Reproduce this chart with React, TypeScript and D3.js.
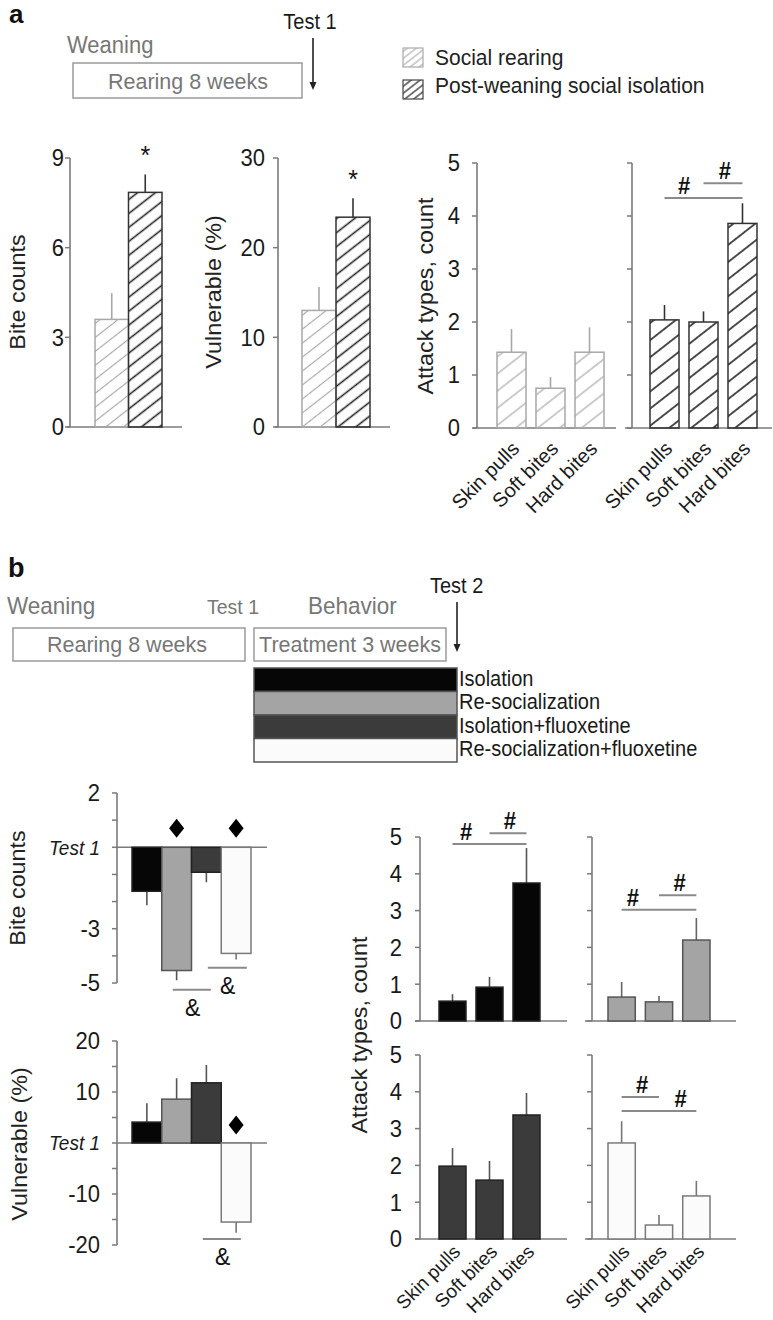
import React from "react";
import * as d3 from "d3";

const W = 773;
const H = 1320;
const FONT = "'Liberation Sans', Arial, Helvetica, sans-serif";
const SY = 1.06;
const AX = "#7a7a7a";
const GRAYTXT = "#777";

// ---------- Panel a data ----------
const rearingGroups = ["Social rearing", "Post-weaning social isolation"];
const biteCountsA = [3.6, 7.85];
const biteCountsErrA = [0.88, 0.6];
const vulnerableA = [13.0, 23.4];
const vulnerableErrA = [2.6, 2.1];
const attackTypes = ["Skin pulls", "Soft bites", "Hard bites"];
const attackSocialA = [1.43, 0.75, 1.43];
const attackSocialErrA = [0.44, 0.21, 0.47];
const attackIsolationA = [2.04, 2.0, 3.86];
const attackIsolationErrA = [0.28, 0.2, 0.38];
const biteTicksA = [0, 3, 6, 9];
const vulnTicksA = [0, 10, 20, 30];
const attackTicks = [0, 1, 2, 3, 4, 5];

// ---------- Panel b data ----------
const treatmentGroups = ["Isolation", "Re-socialization", "Isolation+fluoxetine", "Re-socialization+fluoxetine"];
const treatmentColors = ["#060606", "#a4a4a4", "#3b3b3b", "#fbfbfb"];
const treatmentStrokes = ["#222", "#555", "#222", "#7a7a7a"];
const biteChangeB = [-1.62, -4.54, -0.92, -3.91];
const biteChangeErrB = [0.52, 0.36, 0.37, 0.22];
const vulnChangeB = [4.1, 8.6, 11.8, -15.5];
const vulnChangeErrB = [3.7, 4.1, 3.5, 2.1];
const biteTicksB = [2, 1, 0, -1, -2, -3, -4, -5];
const biteTickLabelsB = ["2", "", "Test 1", "", "", "-3", "", "-5"];
const vulnTicksB = [20, 15, 10, 5, 0, -5, -10, -15, -20];
const vulnTickLabelsB = ["20", "", "10", "", "Test 1", "", "-10", "", "-20"];
const attackIsolationB = [0.54, 0.92, 3.75];
const attackIsolationErrB = [0.19, 0.28, 0.95];
const attackResocB = [0.65, 0.52, 2.2];
const attackResocErrB = [0.41, 0.16, 0.6];
const attackIsoFluoxB = [1.98, 1.6, 3.37];
const attackIsoFluoxErrB = [0.49, 0.52, 0.6];
const attackResocFluoxB = [2.61, 0.38, 1.17];
const attackResocFluoxErrB = [0.59, 0.27, 0.41];

type TxtProps = {
  x: number; y: number; size: number; anchor?: string; rot?: number; fill?: string;
  weight?: string | number; italic?: boolean; dy?: string; sy?: number; children?: React.ReactNode;
};
const Txt = ({ x, y, size, anchor = "start", rot = 0, fill = "#1a1a1a", weight = "normal", italic = false, dy, sy = SY, children }: TxtProps) => (
  <text
    transform={`translate(${x},${y}) scale(1,${sy})${rot ? ` rotate(${rot})` : ""}`}
    fontSize={size}
    textAnchor={anchor as any}
    fill={fill}
    fontWeight={weight as any}
    fontStyle={italic ? "italic" : "normal"}
    dy={dy}
  >
    {children}
  </text>
);

function YAxis({ x, y, ticks, labels, gap = 16, size = 22 }: any) {
  const r = y.range();
  return (
    <g>
      <line x1={x} x2={x} y1={Math.min(...r)} y2={Math.max(...r)} stroke={AX} strokeWidth={1.6} />
      {ticks.map((t: number, i: number) => (
        <line key={i} x1={x - 5} x2={x} y1={y(t)} y2={y(t)} stroke={AX} strokeWidth={1.5} />
      ))}
      {labels &&
        ticks.map((t: number, i: number) =>
          labels[i] ? (
            <Txt key={"l" + i} x={x - gap} y={y(t)} size={labels[i] === "Test 1" ? 19 : size} anchor="end" dy="0.36em" italic={labels[i] === "Test 1"}>
              {labels[i]}
            </Txt>
          ) : null
        )}
    </g>
  );
}

function Bars({ band, y, values, errs, fills, strokes, errStrokes }: any) {
  const dom = band.domain();
  const w = band.bandwidth();
  return (
    <g>
      {values.map((v: number, i: number) => {
        const x = band(dom[i]);
        const cx = x + w / 2;
        const y0 = y(0);
        const y1 = y(v);
        const ye = y(v + (v >= 0 ? errs[i] : -errs[i]));
        return (
          <g key={i}>
            <line x1={cx} x2={cx} y1={y1} y2={ye} stroke={(errStrokes || strokes)[i]} strokeWidth={1.6} />
            <rect x={x} y={Math.min(y0, y1)} width={w} height={Math.abs(y1 - y0)} fill={fills[i]} stroke={strokes[i]} strokeWidth={1.5} />
          </g>
        );
      })}
    </g>
  );
}

function center(band: any, i: number) {
  const dom = band.domain();
  return band(dom[0]) + band.bandwidth() / 2 + i * band.step();
}

function SigLine({ band, y, from, to, level, hashAt }: any) {
  const yy = y(level);
  return (
    <g>
      <line x1={center(band, from)} x2={center(band, to)} y1={yy} y2={yy} stroke="#8a8a8a" strokeWidth={2} />
      <Txt x={center(band, hashAt)} y={yy - 12.5} size={22} anchor="middle" weight="bold" dy="0.36em" fill="#111">#</Txt>
    </g>
  );
}

function AmpLine({ band, y, from, to, level, ampAt }: any) {
  const yy = y(level);
  return (
    <g>
      <line x1={center(band, from)} x2={center(band, to)} y1={yy} y2={yy} stroke="#8a8a8a" strokeWidth={2} />
      <Txt x={center(band, ampAt)} y={yy + 17} size={23} anchor="middle" dy="0.36em" fill="#111">&amp;</Txt>
    </g>
  );
}

function Diamond({ cx, cy }: { cx: number; cy: number }) {
  return <path d={`M${cx},${cy - 9.5} L${cx + 7.5},${cy} L${cx},${cy + 9.5} L${cx - 7.5},${cy} Z`} fill="#000" />;
}

function XLabels({ band, axisY, off = 22, size = 20 }: any) {
  const dom = band.domain();
  return (
    <g>
      {dom.map((d: string, i: number) => (
        <Txt key={d} x={center(band, i) + 9} y={axisY + off} size={size} anchor="end" rot={-45} sy={1}>
          {d}
        </Txt>
      ))}
    </g>
  );
}

function Arrow({ x, y1, y2 }: { x: number; y1: number; y2: number }) {
  return (
    <g>
      <line x1={x} x2={x} y1={y1} y2={y2 - 6} stroke="#222" strokeWidth={1.6} />
      <path d={`M${x - 3.5},${y2 - 8} L${x + 3.5},${y2 - 8} L${x},${y2} Z`} fill="#222" />
    </g>
  );
}

function Hatch({ id, color, sw, gap, angle = -38 }: any) {
  return (
    <pattern id={id} patternUnits="userSpaceOnUse" width={10} height={gap} patternTransform={`rotate(${angle})`}>
      <line x1={0} x2={10} y1={gap / 2} y2={gap / 2} stroke={color} strokeWidth={sw} />
    </pattern>
  );
}

export default function App() {
  // ---------- panel a scales ----------
  const yBiteA = d3.scaleLinear().domain([0, 9]).range([427, 158]);
  const yVulnA = d3.scaleLinear().domain([0, 30]).range([427, 158]);
  const yAttA = d3.scaleLinear().domain([0, 5]).range([428, 163]);
  const bandBiteA = d3.scaleBand().domain(rearingGroups).range([95, 162]).padding(0);
  const bandVulnA = d3.scaleBand().domain(rearingGroups).range([302, 370]).padding(0);
  const bandAttSocA = d3.scaleBand().domain(attackTypes).range([497, 604]).paddingInner(0.256).paddingOuter(0);
  const bandAttIsoA = d3.scaleBand().domain(attackTypes).range([650, 757]).paddingInner(0.256).paddingOuter(0);

  // ---------- panel b scales ----------
  const yBiteB = d3.scaleLinear().domain([-5, 2]).range([983, 793]);
  const yVulnB = d3.scaleLinear().domain([-20, 20]).range([1245, 1041]);
  const bandLeftB = d3.scaleBand().domain(treatmentGroups).range([132, 251]).padding(0);
  const yAttTopB = d3.scaleLinear().domain([0, 5]).range([1021, 837]);
  const yAttBotB = d3.scaleLinear().domain([0, 5]).range([1239, 1055]);
  const bandAttLB = d3.scaleBand().domain(attackTypes).range([439, 540]).paddingInner(0.27).paddingOuter(0);
  const bandAttRB = d3.scaleBand().domain(attackTypes).range([608, 710]).paddingInner(0.27).paddingOuter(0);

  const socFill = ["url(#hLightA)", "url(#hDarkA)"];
  const socStroke = ["#a8a8a8", "#333"];

  const rep = (v: string) => attackTypes.map(() => v);

  const legendA = rearingGroups;
  const legendRowH = 23.5;

  return (
    <svg width={W} height={H} style={{ position: "absolute", left: 0, top: 0, background: "#fff" }} fontFamily={FONT}>
      <defs>
        <Hatch id="hLightA" color="#a9a9a9" sw={1.2} gap={11} />
        <Hatch id="hDarkA" color="#222" sw={1.6} gap={11} />
        <Hatch id="hLightC" color="#a9a9a9" sw={1.2} gap={13.5} />
        <Hatch id="hDarkC" color="#222" sw={1.6} gap={13.5} />
        <Hatch id="hLightL" color="#a9a9a9" sw={1.1} gap={5.5} />
        <Hatch id="hDarkL" color="#333" sw={1.3} gap={5.5} />
      </defs>
      <rect x={0} y={0} width={W} height={H} fill="#fff" />

      {/* ================= Panel a header ================= */}
      <Txt x={9} y={23} size={26} weight="bold" fill="#111" sy={1}>a</Txt>
      <Txt x={310} y={29} size={20} anchor="middle" fill="#1a1a1a">Test 1</Txt>
      <Arrow x={313} y1={38} y2={90} />
      <Txt x={67} y={53} size={22} fill={GRAYTXT}>Weaning</Txt>
      <rect x={73} y={63} width={229} height={35} fill="#fff" stroke="#9a9a9a" strokeWidth={1.5} />
      <Txt x={188} y={89} size={21.5} anchor="middle" fill={GRAYTXT}>Rearing 8 weeks</Txt>
      {legendA.map((g, i) => (
        <g key={g}>
          <rect x={403} y={48 + i * 32} width={20} height={19} fill={i === 0 ? "url(#hLightL)" : "url(#hDarkL)"} stroke={i === 0 ? "#aaa" : "#444"} strokeWidth={1.2} />
          <Txt x={435} y={65 + i * 28} size={21} fill="#222">{g}</Txt>
        </g>
      ))}

      {/* ================= Panel a charts ================= */}
      {/* Bite counts */}
      <line x1={67} x2={182} y1={yBiteA(0)} y2={yBiteA(0)} stroke={AX} strokeWidth={1.6} />
      <Bars band={bandBiteA} y={yBiteA} values={biteCountsA} errs={biteCountsErrA} fills={socFill} strokes={socStroke} />
      <YAxis x={70} y={yBiteA} ticks={biteTicksA} labels={biteTicksA.map(String)} gap={6} />
      <Txt x={center(bandBiteA, 1)} y={yBiteA(biteCountsA[1] + biteCountsErrA[1]) - 10} size={25} anchor="middle" fill="#111">*</Txt>
      <Txt x={25} y={292} size={22} anchor="middle" rot={-90} fill="#222">Bite counts</Txt>

      {/* Vulnerable */}
      <line x1={275} x2={390} y1={yVulnA(0)} y2={yVulnA(0)} stroke={AX} strokeWidth={1.6} />
      <Bars band={bandVulnA} y={yVulnA} values={vulnerableA} errs={vulnerableErrA} fills={socFill} strokes={socStroke} />
      <YAxis x={278} y={yVulnA} ticks={vulnTicksA} labels={vulnTicksA.map(String)} gap={13} />
      <Txt x={center(bandVulnA, 1)} y={yVulnA(vulnerableA[1] + vulnerableErrA[1]) - 10} size={25} anchor="middle" fill="#111">*</Txt>
      <Txt x={221} y={292} size={22} anchor="middle" rot={-90} fill="#222">Vulnerable (%)</Txt>

      {/* Attack types social */}
      <line x1={473} x2={616} y1={yAttA(0)} y2={yAttA(0)} stroke={AX} strokeWidth={1.6} />
      <Bars band={bandAttSocA} y={yAttA} values={attackSocialA} errs={attackSocialErrA} fills={rep("url(#hLightC)")} strokes={rep("#a8a8a8")} />
      <YAxis x={477} y={yAttA} ticks={attackTicks} labels={attackTicks.map(String)} gap={17} />
      <Txt x={433} y={296} size={22} anchor="middle" rot={-90} fill="#222">Attack types, count</Txt>
      <XLabels band={bandAttSocA} axisY={yAttA(0)} off={22} size={20} />

      {/* Attack types isolation */}
      <line x1={625} x2={772} y1={yAttA(0)} y2={yAttA(0)} stroke={AX} strokeWidth={1.6} />
      <Bars band={bandAttIsoA} y={yAttA} values={attackIsolationA} errs={attackIsolationErrA} fills={rep("url(#hDarkC)")} strokes={rep("#333")} />
      <YAxis x={632} y={yAttA} ticks={attackTicks} />
      <SigLine band={bandAttIsoA} y={yAttA} from={0} to={2} level={4.34} hashAt={0.5} />
      <SigLine band={bandAttIsoA} y={yAttA} from={1} to={2} level={4.62} hashAt={1.55} />
      <XLabels band={bandAttIsoA} axisY={yAttA(0)} off={22} size={20} />

      {/* ================= Panel b header ================= */}
      <Txt x={8} y={577} size={27} weight="bold" fill="#111" sy={1}>b</Txt>
      <Txt x={7} y={614} size={22.5} fill={GRAYTXT}>Weaning</Txt>
      <Txt x={207} y={614} size={19.5} fill={GRAYTXT}>Test 1</Txt>
      <Txt x={308} y={614} size={22.5} fill={GRAYTXT}>Behavior</Txt>
      <Txt x={430} y={593} size={20} fill="#1a1a1a">Test 2</Txt>
      <Arrow x={457} y1={602} y2={652} />
      <rect x={13} y={628} width={232} height={33} fill="#fff" stroke="#9a9a9a" strokeWidth={1.5} />
      <Txt x={127} y={652} size={21.5} anchor="middle" fill={GRAYTXT}>Rearing 8 weeks</Txt>
      <rect x={254} y={628} width={192} height={33} fill="#fff" stroke="#9a9a9a" strokeWidth={1.5} />
      <Txt x={350} y={652} size={21.5} anchor="middle" fill={GRAYTXT}>Treatment 3 weeks</Txt>
      {treatmentGroups.map((g, i) => (
        <g key={g}>
          <rect x={254} y={668 + i * legendRowH} width={203} height={legendRowH} fill={treatmentColors[i]} stroke="#555" strokeWidth={1.5} />
          <Txt x={459} y={668 + i * legendRowH + legendRowH / 2 + 6} size={20} fill="#1a1a1a">{g}</Txt>
        </g>
      ))}

      {/* ================= Panel b left: bite counts ================= */}
      <line x1={117} x2={267} y1={yBiteB(0)} y2={yBiteB(0)} stroke={AX} strokeWidth={1.6} />
      <Bars band={bandLeftB} y={yBiteB} values={biteChangeB} errs={biteChangeErrB} fills={treatmentColors} strokes={treatmentStrokes} errStrokes={["#555", "#555", "#555", "#777"]} />
      <YAxis x={117} y={yBiteB} ticks={biteTicksB} labels={biteTickLabelsB} gap={17} />
      <Diamond cx={center(bandLeftB, 1)} cy={yBiteB(0) - 19} />
      <Diamond cx={center(bandLeftB, 3)} cy={yBiteB(0) - 19} />
      <AmpLine band={bandLeftB} y={yBiteB} from={0.87} to={2.15} level={-5.25} ampAt={1.54} />
      <AmpLine band={bandLeftB} y={yBiteB} from={2.05} to={3.36} level={-4.44} ampAt={2.72} />
      <Txt x={25} y={888} size={22} anchor="middle" rot={-90} fill="#222">Bite counts</Txt>

      {/* ================= Panel b left: vulnerable ================= */}
      <line x1={117} x2={267} y1={yVulnB(0)} y2={yVulnB(0)} stroke={AX} strokeWidth={1.6} />
      <Bars band={bandLeftB} y={yVulnB} values={vulnChangeB} errs={vulnChangeErrB} fills={treatmentColors} strokes={treatmentStrokes} errStrokes={["#555", "#555", "#555", "#777"]} />
      <YAxis x={117} y={yVulnB} ticks={vulnTicksB} labels={vulnTickLabelsB} gap={17} />
      <Diamond cx={center(bandLeftB, 3)} cy={yVulnB(0) - 18} />
      <AmpLine band={bandLeftB} y={yVulnB} from={1.88} to={3.16} level={-18.8} ampAt={2.55} />
      <Txt x={27} y={1144} size={22} anchor="middle" rot={-90} fill="#222">Vulnerable (%)</Txt>

      {/* ================= Panel b right: attack types ================= */}
      <Txt x={367} y={1035} size={22} anchor="middle" rot={-90} fill="#222">Attack types, count</Txt>

      {/* top-left: isolation */}
      <line x1={415} x2={567} y1={yAttTopB(0)} y2={yAttTopB(0)} stroke={AX} strokeWidth={1.6} />
      <Bars band={bandAttLB} y={yAttTopB} values={attackIsolationB} errs={attackIsolationErrB} fills={rep(treatmentColors[0])} strokes={rep(treatmentStrokes[0])} errStrokes={rep("#555")} />
      <YAxis x={420} y={yAttTopB} ticks={attackTicks} labels={attackTicks.map(String)} gap={18} />
      <SigLine band={bandAttLB} y={yAttTopB} from={0} to={2} level={4.81} hashAt={0.37} />
      <SigLine band={bandAttLB} y={yAttTopB} from={1} to={2} level={5.1} hashAt={1.55} />

      {/* top-right: re-socialization */}
      <line x1={585} x2={736} y1={yAttTopB(0)} y2={yAttTopB(0)} stroke={AX} strokeWidth={1.6} />
      <Bars band={bandAttRB} y={yAttTopB} values={attackResocB} errs={attackResocErrB} fills={rep(treatmentColors[1])} strokes={rep(treatmentStrokes[1])} errStrokes={rep("#666")} />
      <YAxis x={592} y={yAttTopB} ticks={attackTicks} />
      <SigLine band={bandAttRB} y={yAttTopB} from={0} to={2} level={3.02} hashAt={0.3} />
      <SigLine band={bandAttRB} y={yAttTopB} from={1} to={2} level={3.42} hashAt={1.55} />

      {/* bottom-left: isolation + fluoxetine */}
      <line x1={415} x2={567} y1={yAttBotB(0)} y2={yAttBotB(0)} stroke={AX} strokeWidth={1.6} />
      <Bars band={bandAttLB} y={yAttBotB} values={attackIsoFluoxB} errs={attackIsoFluoxErrB} fills={rep(treatmentColors[2])} strokes={rep(treatmentStrokes[2])} errStrokes={rep("#555")} />
      <YAxis x={420} y={yAttBotB} ticks={attackTicks} labels={attackTicks.map(String)} gap={18} />
      <XLabels band={bandAttLB} axisY={yAttBotB(0)} off={14} size={19} />

      {/* bottom-right: re-socialization + fluoxetine */}
      <line x1={585} x2={736} y1={yAttBotB(0)} y2={yAttBotB(0)} stroke={AX} strokeWidth={1.6} />
      <Bars band={bandAttRB} y={yAttBotB} values={attackResocFluoxB} errs={attackResocFluoxErrB} fills={rep(treatmentColors[3])} strokes={rep(treatmentStrokes[3])} errStrokes={rep("#777")} />
      <YAxis x={592} y={yAttBotB} ticks={attackTicks} />
      <SigLine band={bandAttRB} y={yAttBotB} from={0} to={1} level={3.86} hashAt={0.55} />
      <SigLine band={bandAttRB} y={yAttBotB} from={0} to={2} level={3.48} hashAt={1.58} />
      <XLabels band={bandAttRB} axisY={yAttBotB(0)} off={14} size={19} />
    </svg>
  );
}
